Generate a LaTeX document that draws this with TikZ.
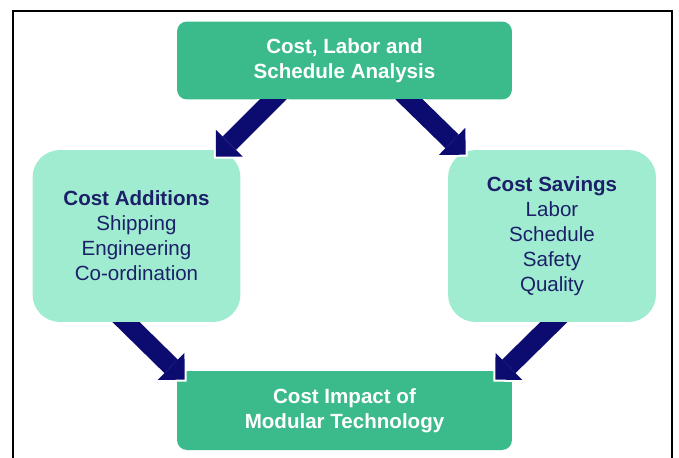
\documentclass[tikz,border=0pt]{standalone}
\usepackage{fontspec}
\setmainfont{Liberation Sans}
\usetikzlibrary{arrows.meta, positioning}
\definecolor{mygreen}{RGB}{59,187,139}
\definecolor{mymint}{RGB}{160,236,209}
\definecolor{mynavy}{RGB}{11,11,112}
\definecolor{mytext}{RGB}{28,32,104}
\tikzset{
  mainbox/.style={rectangle, fill=mygreen, text=white,
    font=\fontsize{11.7}{14.2}\selectfont\bfseries, align=center,
    rounded corners=0.2cm, minimum width=6.7cm, minimum height=1.56cm},
  listbox/.style={rectangle, fill=mymint, text=mytext,
    font=\fontsize{11.7}{14.2}\selectfont, align=center,
    rounded corners=0.55cm, minimum width=4.16cm, minimum height=3.44cm},
  bigarrow/.style={draw=mynavy, line width=0.38cm,
    -{Triangle[width=0.76cm, length=0.38cm, line width=0pt]},
    preaction={draw=white, line width=0.46cm,
      -{Triangle[width=0.95cm, length=0.475cm, line width=0pt]},
      shorten >=-0.057cm}}
}
\begin{document}
\begin{tikzpicture}[x=0.02cm, y=-0.02cm]
  \useasboundingbox (0,0) rectangle (679,457);
  % frame
  \draw[line width=0.6pt] (13,470) -- (13,11) -- (672,11) -- (672,470);

  % boxes
  \node[mainbox] (top) at (344.5,60.5) {Cost, Labor and\\Schedule Analysis};
  \node[listbox] (left) at (136.5,236) {\textbf{Cost Additions}\\Shipping\\Engineering\\Co-ordination};
  \node[listbox] (right) at (552,236) {\textbf{Cost Savings}\\Labor\\Schedule\\Safety\\Quality};
  \node[mainbox, minimum height=1.58cm] (bottom) at (344.5,410.5) {Cost Impact of\\Modular Technology};

  % arrows out of the analysis box
  \begin{scope}
    \clip (0,0 |- top.south) rectangle (679,457);
    \draw[bigarrow] ([shift={(104,-8)}]top.south west) -- ([shift={(-25,7)}]left.north east);
    \draw[bigarrow] ([shift={(-111,-8)}]top.south east) -- ([shift={(18,5)}]right.north west);
  \end{scope}

  % arrows into the impact box
  \begin{scope}
    \clip (0,0 |- left.south) rectangle (679,457);
    \draw[bigarrow] ([shift={(86,-8)}]left.south west) -- ([shift={(8,9)}]bottom.north west);
    \draw[bigarrow] ([shift={(114,-8)}]right.south west) -- ([shift={(-17,9)}]bottom.north east);
  \end{scope}
\end{tikzpicture}
\end{document}
